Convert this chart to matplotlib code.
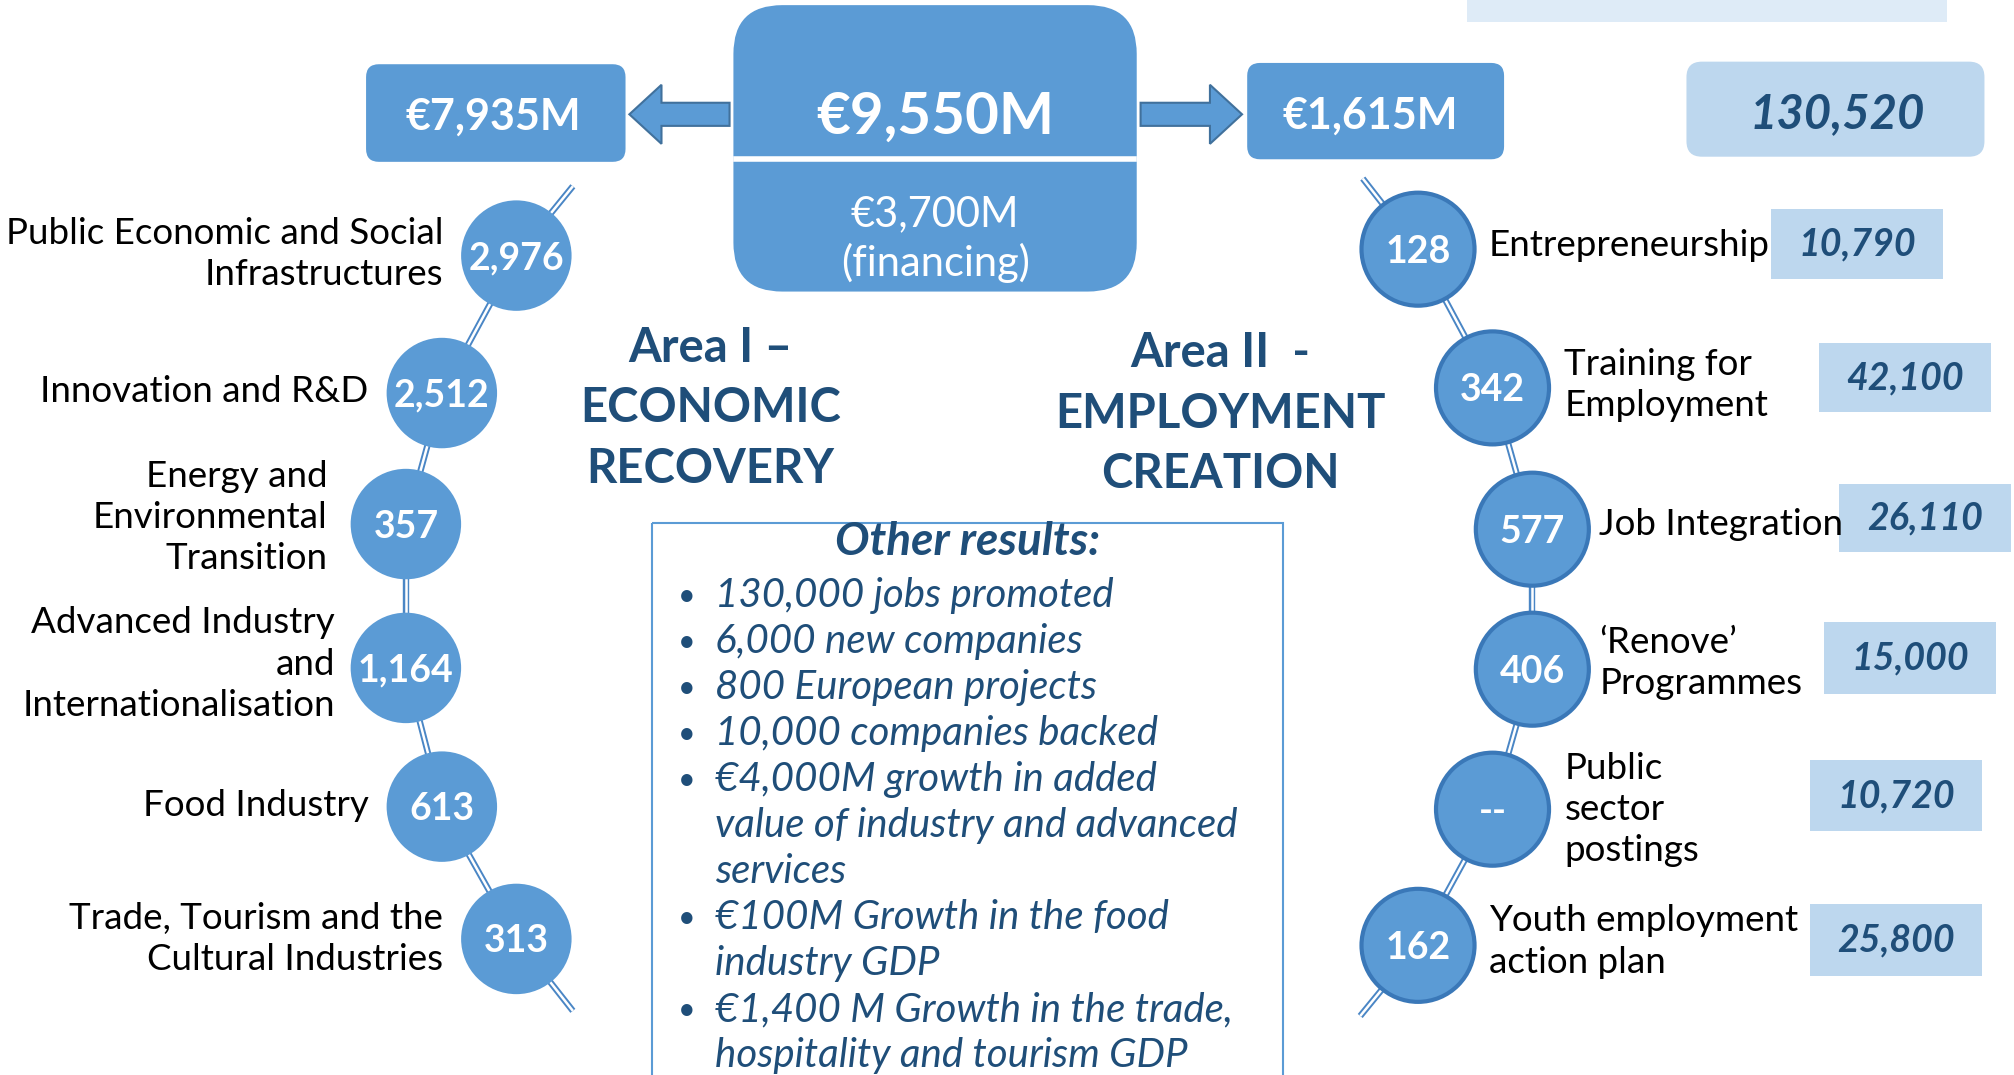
import matplotlib
matplotlib.use("Agg")
import matplotlib.pyplot as plt
from matplotlib.patches import FancyBboxPatch, Circle, Rectangle, Polygon

plt.rcParams['font.family'] = ['Lato', 'DejaVu Sans']

# ---------------- data ----------------
total_budget = 9550          # €M
financing = 3700             # €M
area_budgets = [7935, 1615]  # €M, Area I / Area II
total_jobs = 130520
area_titles = ["Area I –\nECONOMIC\nRECOVERY", "Area II  -\nEMPLOYMENT\nCREATION"]

area1_labels = ["Public Economic and Social\nInfrastructures", "Innovation and R&D",
                "Energy and\nEnvironmental\nTransition",
                "Advanced Industry\nand\nInternationalisation", "Food Industry",
                "Trade, Tourism and the\nCultural Industries"]
area1_values = [2976, 2512, 357, 1164, 613, 313]

area2_labels = ["Entrepreneurship", "Training for\nEmployment", "Job Integration",
                "‘Renove’\nProgrammes", "Public\nsector\npostings",
                "Youth employment\naction plan"]
area2_values = [128, 342, 577, 406, None, 162]
area2_jobs = [10790, 42100, 26110, 15000, 10720, 25800]

other_title = "Other results:"
other_results = [("130,000 jobs promoted", True), ("6,000 new companies", True),
                 ("800 European projects", True), ("10,000 companies backed", True),
                 ("€4,000M growth in added", True), ("value of industry and advanced", False),
                 ("services", False), ("€100M Growth in the food", True),
                 ("industry GDP", False), ("€1,400 M Growth in the trade,", True),
                 ("hospitality and tourism GDP", False)]

# ---------------- layout ----------------
W, H = 2014, 1075
S = W / 1568.0
BLUE = "#5b9bd5"
DARK = "#1f4e79"
LIGHT = "#bdd7ee"

fig = plt.figure(figsize=(W / 100, H / 100), dpi=100)
ax = fig.add_axes([0, 0, 1, 1])
ax.set_xlim(0, W)
ax.set_ylim(H, 0)
ax.axis('off')


def s(v):
    return v * S


def rbox(x0, y0, x1, y1, r, fc, ec="none", lw=0, z=2):
    p = FancyBboxPatch((s(x0), s(y0)), s(x1 - x0), s(y1 - y0),
                       boxstyle=f"round,pad=0,rounding_size={s(r)}",
                       fc=fc, ec=ec, lw=lw, zorder=z)
    ax.add_patch(p)


def dline(p0, p1):
    xs = [s(p0[0]), s(p1[0])]
    ys = [s(p0[1]), s(p1[1])]
    ax.plot(xs, ys, color="#4a86c5", lw=4.6, solid_capstyle='butt', zorder=1)
    ax.plot(xs, ys, color="white", lw=1.8, solid_capstyle='butt', zorder=1.1)


# top partial box
ax.add_patch(Rectangle((s(1142), 0), s(1516 - 1142), s(17), fc="#deebf7", ec="none", zorder=1))

# central box
rbox(571, 4, 885, 227, 38, BLUE)
ax.plot([s(573), s(883)], [s(124), s(124)], color="white", lw=4, zorder=3)
ax.text(s(728), s(91), f"€{total_budget:,}M", color="white", fontsize=42, fontweight='bold',
        ha='center', va='center', zorder=4)
ax.text(s(728), s(186), f"€{financing:,}M\n(financing)", color="white", fontsize=30,
        ha='center', va='center', linespacing=1.3, zorder=4)

# area budget boxes
rbox(285, 50, 487, 126, 10, BLUE)
ax.text(s(384), s(91), f"€{area_budgets[0]:,}M", color="white", fontsize=31, fontweight='bold',
        ha='center', va='center', zorder=4)
rbox(971, 49, 1171, 124, 10, BLUE)
ax.text(s(1067), s(90), f"€{area_budgets[1]:,}M", color="white", fontsize=31, fontweight='bold',
        ha='center', va='center', zorder=4)

# total jobs box
rbox(1313, 48, 1545, 122, 12, LIGHT)
ax.text(s(1430), s(89), f"{total_jobs:,}", color=DARK, fontsize=34, fontweight='bold',
        fontstyle='italic', ha='center', va='center', zorder=4)


# arrows
def arrow(tail, tip, yc):
    d = 1 if tip > tail else -1
    hl = 25
    sh, hh = 9, 23
    base = tip - d * hl
    pts = [(tail, yc - sh), (base, yc - sh), (base, yc - hh), (tip, yc),
           (base, yc + hh), (base, yc + sh), (tail, yc + sh)]
    ax.add_patch(Polygon([(s(x), s(y)) for x, y in pts], closed=True, fc=BLUE,
                         ec="#41719c", lw=1.5, zorder=2))


arrow(568, 490, 89)
arrow(888, 967, 89)

# area titles
ax.text(s(553), s(318), area_titles[0], color=DARK, fontsize=34, fontweight='bold',
        ha='center', va='center', linespacing=1.45, zorder=4)
ax.text(s(950), s(322), area_titles[1], color=DARK, fontsize=34, fontweight='bold',
        ha='center', va='center', linespacing=1.45, zorder=4)

LBL = 26.5
LSP = 1.3

# left chain
lcx = [402, 344, 316, 316, 344, 402]
lcy = [199, 306, 408, 520, 628, 731]
lrx = [345, 287, 255, 261, 287, 345]
lly = [198, 305, 403, 517, 627, 731]
dline((446, 145), (lcx[0], lcy[0]))
for i in range(5):
    dline((lcx[i], lcy[i]), (lcx[i + 1], lcy[i + 1]))
dline((lcx[-1], lcy[-1]), (446, 787))
for i, v in enumerate(area1_values):
    ax.add_patch(Circle((s(lcx[i]), s(lcy[i])), s(43), fc=BLUE, ec="none", zorder=3))
    ax.text(s(lcx[i]), s(lcy[i] + 2), f"{v:,}", color="white", fontsize=27, fontweight='bold',
            ha='center', va='center', zorder=4)
    ax.text(s(lrx[i]), s(lly[i]), area1_labels[i], color="black", fontsize=LBL,
            ha='right', va='center', multialignment='right', linespacing=LSP, zorder=4)

# right chain
rcx = [1104, 1162, 1193, 1193, 1162, 1104]
rcy = [194, 302, 412, 521, 630, 736]
rlx = [1159, 1218, 1245, 1245, 1218, 1159]
rly = [191, 300, 408, 516, 630, 733]
bx0 = [1379, 1416, 1432, 1420, 1409, 1409]
by0 = [163, 267, 377, 484, 592, 704]
by1 = [217, 321, 430, 540, 647, 760]
dline((1061, 139), (rcx[0], rcy[0]))
for i in range(5):
    dline((rcx[i], rcy[i]), (rcx[i + 1], rcy[i + 1]))
dline((rcx[-1], rcy[-1]), (1059, 791))
for i, v in enumerate(area2_values):
    ax.add_patch(Circle((s(rcx[i]), s(rcy[i])), s(44), fc=BLUE, ec="#3a78b8", lw=3, zorder=3))
    ax.text(s(rcx[i]), s(rcy[i] + 2), "--" if v is None else f"{v:,}", color="white",
            fontsize=27, fontweight='bold', ha='center', va='center', zorder=4)
    ax.text(s(rlx[i]), s(rly[i]), area2_labels[i], color="black", fontsize=LBL,
            ha='left', va='center', multialignment='left', linespacing=LSP, zorder=4)
    ax.add_patch(Rectangle((s(bx0[i]), s(by0[i])), s(134), s(by1[i] - by0[i]), fc=LIGHT,
                           ec="none", zorder=2))
    ax.text(s(bx0[i] + 67), s((by0[i] + by1[i]) / 2), f"{area2_jobs[i]:,}", color=DARK,
            fontsize=27, fontweight='bold', fontstyle='italic', ha='center', va='center', zorder=4)

# other results box
ax.add_patch(Rectangle((s(508), s(407)), s(999 - 508), s(450), fc="none", ec=BLUE, lw=1.5, zorder=2))
ax.text(s(753), s(422), other_title, color=DARK, fontsize=33, fontweight='bold',
        fontstyle='italic', ha='center', va='center', zorder=4)
y = 464
for txt, bullet in other_results:
    if bullet:
        ax.text(s(535), s(y), "•", color=DARK, fontsize=22, ha='center', va='center', zorder=4)
    ax.text(s(557), s(y), txt, color=DARK, fontsize=29, fontstyle='italic',
            ha='left', va='center', zorder=4)
    y += 35.8

fig.savefig("out.png", dpi=100)
